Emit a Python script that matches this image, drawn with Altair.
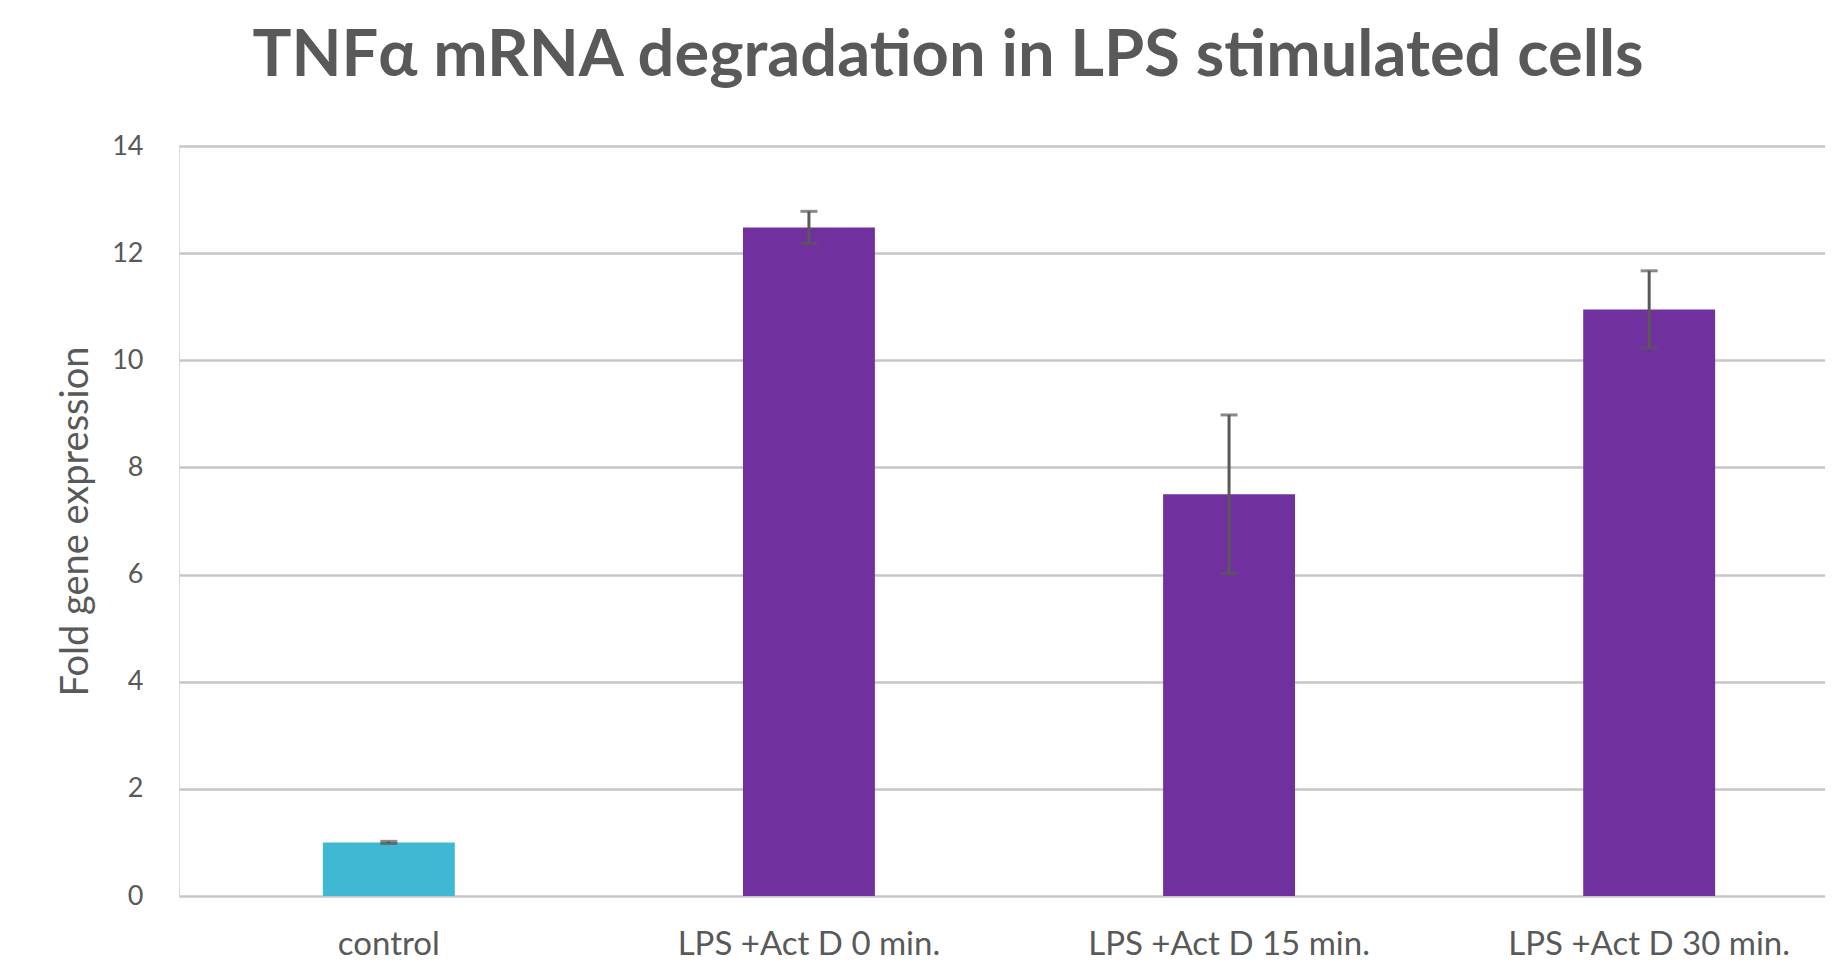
import altair as alt
import pandas as pd

categories = ["control", "LPS +Act D 0 min.", "LPS +Act D 15 min.", "LPS +Act D 30 min."]
values = [1.0, 12.48, 7.5, 10.95]
errors = [0.02, 0.3, 1.48, 0.72]
bar_colors = ["#3FB8D3", "#70309D", "#70309D", "#70309D"]
y_ticks = [0, 2, 4, 6, 8, 10, 12, 14]

df = pd.DataFrame({
    "cat": categories,
    "val": values,
    "lo": [v - e for v, e in zip(values, errors)],
    "hi": [v + e for v, e in zip(values, errors)],
})

FONT = "Lato"
GREY = "#595959"

x = alt.X("cat:N", sort=categories, title=None,
          scale=alt.Scale(paddingInner=0.686, paddingOuter=0.302, align=0.567),
          axis=alt.Axis(labelAngle=0, labelFontSize=33, labelFont=FONT, labelColor=GREY,
                        labelPadding=32, labelLimit=0, ticks=False, domain=False))
y_scale = alt.Scale(domain=[0, 14], nice=False)

bars = alt.Chart(df).mark_bar().encode(
    x=x,
    y=alt.Y("val:Q", scale=y_scale, title="Fold gene expression",
            axis=alt.Axis(values=y_ticks, grid=True, gridColor="#C6C6C6", gridWidth=2.5,
                          ticks=False, domain=False, labelFontSize=27, labelFont=FONT,
                          labelColor=GREY, labelPadding=36, titleFont=FONT,
                          titleFontSize=38, titleFontWeight="normal", titleColor=GREY,
                          titlePadding=16)),
    color=alt.Color("cat:N", scale=alt.Scale(domain=categories, range=bar_colors), legend=None),
)

rules = alt.Chart(df).mark_rule(color=GREY, strokeWidth=3).encode(
    x=alt.X("cat:N", sort=categories),
    y=alt.Y("lo:Q", scale=y_scale),
    y2="hi:Q",
)

caps_lo = alt.Chart(df).mark_tick(color=GREY, thickness=3, size=17).encode(
    x=alt.X("cat:N", sort=categories),
    y=alt.Y("lo:Q", scale=y_scale),
)
caps_hi = alt.Chart(df).mark_tick(color=GREY, thickness=3, size=17).encode(
    x=alt.X("cat:N", sort=categories),
    y=alt.Y("hi:Q", scale=y_scale),
)

chart = alt.layer(bars, rules, caps_lo, caps_hi).properties(
    width=1646,
    height=750,
    title=alt.TitleParams("TNF\u03b1 mRNA degradation in LPS stimulated cells",
                          font=FONT, fontSize=65, fontWeight="bold", color=GREY,
                          anchor="middle", dx=-54, offset=42),
    autosize=alt.AutoSizeParams(type="none"),
    padding={"left": 171, "top": 138, "right": 0, "bottom": 72},
).configure_view(stroke=None).configure(background="white")

chart.save("out.html", embed_options={"renderer": "svg", "actions": False})
